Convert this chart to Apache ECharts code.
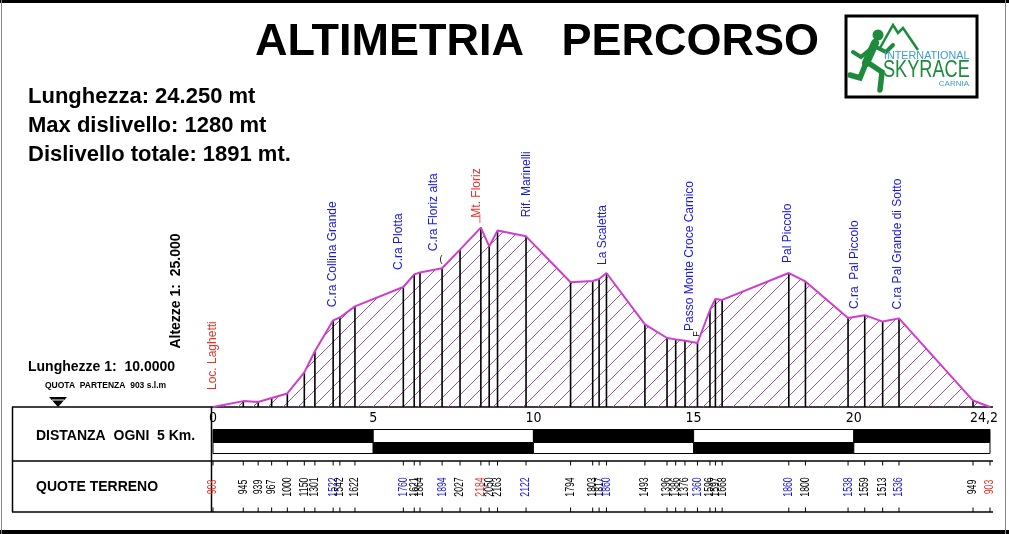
<!DOCTYPE html>
<html><head><meta charset="utf-8">
<script src="https://cdn.jsdelivr.net/npm/echarts@6/dist/echarts.min.js"></script>
<style>html,body{margin:0;padding:0;background:#fff}#c{width:1009px;height:534px}</style>
</head><body><div id="c"></div>
<script>
// ---------------- DATA ----------------
const distancesKm = [0, 0.945, 1.41, 1.83, 2.32, 2.85, 3.18, 3.75, 3.96, 4.43, 5.94, 6.28, 6.46, 7.15, 7.71, 8.36, 8.62, 8.88, 9.77, 11.16, 11.85, 12.05, 12.28, 13.48, 14.17, 14.44, 14.73, 15.12, 15.51, 15.68, 15.89, 17.97, 18.49, 19.82, 20.34, 20.90, 21.41, 23.72, 24.25];
const elevations = [903, 945, 939, 967, 1000, 1150, 1301, 1522, 1542, 1622, 1760, 1850, 1864, 1894, 2027, 2184, 2050, 2163, 2122, 1794, 1803, 1817, 1860, 1493, 1396, 1386, 1376, 1360, 1596, 1675, 1668, 1860, 1800, 1538, 1559, 1513, 1536, 949, 903];
const quoteLabels = ['903','945','939','967','1000','1150','1301','1522','1542','1622','1760','1621','1864','1894','2027','2184','2050','2163','2122','1794','1803','1817','1860','1493','1396','1386','1376','1360','1596','1597','1668','1860','1800','1538','1559','1513','1536','949','903'];
const placeNames = ['Loc. Laghetti','C.ra Collina Grande','C.ra Plotta','C.ra Floriz alta','Mt. Floriz','Rif. Marinelli','La Scaletta','Passo Monte Croce Carnico','Pal Piccolo','C.ra  Pal Piccolo','C.ra Pal Grande di Sotto'];
const placePointIndex = [0, 7, 10, 13, 15, 18, 22, 27, 31, 33, 36];
const distanceSegments = [[0, 5], [5, 10], [10, 15], [15, 20], [20, 24.25]];
const xTickValues = [0, 5, 10, 15, 20, 24.25];
const xTickLabels = ['0', '5', '10', '15', '20', '24,2'];

// ---------------- STYLE / LAYOUT ----------------
const RED = '#e8302a', BLUE = '#1616e0', FONT = 'Liberation Sans, Arial, sans-serif';
const redPlaces = ['Loc. Laghetti', 'Mt. Floriz'];
const nameGap = [17, 13, 17, 17, 10, 19, 8, 12, 10, 9, 9];
const nameDx = [0, 0, -5, -8, -4, 1, -4, -8, -1, 7, -1];
const nameMarks = ['', '', '', '(', '|', '', '', 'F', '', '', ''];
const BASE = 903;

function placeColor(j) { return redPlaces.indexOf(placeNames[j]) >= 0 ? RED : BLUE; }
function quoteColor(i) {
  if (i === 0 || i === distancesKm.length - 1) return RED;
  const j = placePointIndex.indexOf(i);
  return j >= 0 ? placeColor(j) : '#000';
}

// hatch pattern
const pat = document.createElement('canvas');
pat.width = 15; pat.height = 15;
const pc = pat.getContext('2d');
pc.strokeStyle = '#9a55a0'; pc.lineWidth = 1;
pc.beginPath();
pc.moveTo(0, 15); pc.lineTo(15, 0);
pc.moveTo(-2, 2); pc.lineTo(2, -2);
pc.moveTo(13, 17); pc.lineTo(17, 13);
pc.stroke();

const chart = echarts.init(document.getElementById('c'), null, { renderer: 'canvas' });

const profile = distancesKm.map((d, i) => [d, elevations[i]]);
const G = '#1e8a3c';

const graphics = [
  // frame
  { type: 'rect', shape: { x: 0, y: 0, width: 1009, height: 3 }, style: { fill: '#000' } },
  { type: 'rect', shape: { x: 0, y: 530, width: 1009, height: 4 }, style: { fill: '#000' } },
  { type: 'line', shape: { x1: 1.5, y1: 0, x2: 1.5, y2: 534 }, style: { stroke: '#888', lineWidth: 1 } },
  { type: 'line', shape: { x1: 1005.5, y1: 0, x2: 1005.5, y2: 534 }, style: { stroke: '#888', lineWidth: 1 } },
  // table
  { type: 'line', shape: { x1: 12, y1: 407, x2: 993, y2: 407 }, style: { stroke: '#000', lineWidth: 1.5 } },
  { type: 'line', shape: { x1: 12, y1: 461, x2: 993, y2: 461 }, style: { stroke: '#000', lineWidth: 1.5 } },
  { type: 'line', shape: { x1: 12, y1: 512, x2: 993, y2: 512 }, style: { stroke: '#000', lineWidth: 1.5 } },
  { type: 'line', shape: { x1: 12.5, y1: 407, x2: 12.5, y2: 512 }, style: { stroke: '#000', lineWidth: 1.5 } },
  { type: 'line', shape: { x1: 211.5, y1: 407, x2: 211.5, y2: 512 }, style: { stroke: '#000', lineWidth: 1.5 } },
  { type: 'text', x: 36, y: 436, style: { text: 'DISTANZA  OGNI  5 Km.', font: 'bold 14px ' + FONT, fill: '#000', verticalAlign: 'middle' } },
  { type: 'text', x: 36, y: 487, style: { text: 'QUOTE TERRENO', font: 'bold 14px ' + FONT, fill: '#000', verticalAlign: 'middle' } },
  // title and info
  { type: 'text', x: 537, y: 43, style: { text: 'ALTIMETRIA   PERCORSO', font: 'bold 45px ' + FONT, fill: '#000', align: 'center', verticalAlign: 'middle' } },
  { type: 'text', x: 28, y: 97, style: { text: 'Lunghezza: 24.250 mt', font: 'bold 22px ' + FONT, fill: '#000', verticalAlign: 'middle' } },
  { type: 'text', x: 28, y: 126, style: { text: 'Max dislivello: 1280 mt', font: 'bold 22px ' + FONT, fill: '#000', verticalAlign: 'middle' } },
  { type: 'text', x: 28, y: 155, style: { text: 'Dislivello totale: 1891 mt.', font: 'bold 22px ' + FONT, fill: '#000', verticalAlign: 'middle' } },
  { type: 'text', x: 176, y: 291, rotation: Math.PI / 2, style: { text: 'Altezze 1:  25.000', font: 'bold 14px ' + FONT, fill: '#000', align: 'center', verticalAlign: 'middle' } },
  { type: 'text', x: 28, y: 367, style: { text: 'Lunghezze 1:  10.0000', font: 'bold 14px ' + FONT, fill: '#000', verticalAlign: 'middle' } },
  { type: 'text', x: 45, y: 386, style: { text: 'QUOTA  PARTENZA  903 s.l.m', font: 'bold 8.5px ' + FONT, fill: '#000', verticalAlign: 'middle' } },
  { type: 'polygon', shape: { points: [[49, 397], [67, 397], [58, 407]] }, style: { fill: '#000' } },
  { type: 'line', shape: { x1: 52, y1: 400, x2: 64, y2: 400 }, style: { stroke: '#fff', lineWidth: 1 } },
  // logo
  { type: 'rect', shape: { x: 846, y: 16, width: 131, height: 81 }, style: { fill: '#fff', stroke: '#000', lineWidth: 3 } },
  { type: 'polyline', shape: { points: [[880, 48], [893, 25], [898, 33], [903, 28], [918, 50]] }, style: { stroke: G, lineWidth: 2.5, fill: null } },
  { type: 'circle', shape: { cx: 878, cy: 35, r: 5.5 }, style: { fill: G } },
  { type: 'polyline', shape: { points: [[875, 43], [866, 63]] }, style: { stroke: G, lineWidth: 8, lineCap: 'round' } },
  { type: 'polyline', shape: { points: [[874, 46], [886, 52], [893, 45]] }, style: { stroke: G, lineWidth: 4, lineCap: 'round', fill: null } },
  { type: 'polyline', shape: { points: [[873, 47], [861, 57], [853, 52]] }, style: { stroke: G, lineWidth: 4, lineCap: 'round', fill: null } },
  { type: 'polyline', shape: { points: [[867, 62], [882, 72], [880, 90]] }, style: { stroke: G, lineWidth: 5.5, lineCap: 'round', fill: null } },
  { type: 'polyline', shape: { points: [[866, 63], [860, 78], [850, 75]] }, style: { stroke: G, lineWidth: 5.5, lineCap: 'round', fill: null } },
  { type: 'text', x: 884, y: 56, scaleX: 0.98, style: { text: 'INTERNATIONAL', font: '11px ' + FONT, fill: '#3a9fd0', verticalAlign: 'middle' } },
  { type: 'text', x: 883, y: 71, scaleX: 0.79, style: { text: 'SKYRACE', font: '23px ' + FONT, fill: G, verticalAlign: 'middle' } },
  { type: 'text', x: 969, y: 84, style: { text: 'CARNIA', font: '8px ' + FONT, fill: '#3a9fd0', align: 'right', verticalAlign: 'middle' } }
];

const option = {
  animation: false,
  backgroundColor: '#fff',
  grid: { left: 213, right: 19, top: 197, bottom: 127, containLabel: false, outerBoundsMode: 'none' },
  xAxis: {
    type: 'value', min: 0, max: 24.25, interval: 5,
    axisLine: { show: false }, axisTick: { show: false }, splitLine: { show: false },
    axisLabel: {
      showMinLabel: true, showMaxLabel: true, margin: 4, color: '#000', fontSize: 14,
      fontFamily: 'Liberation Sans Narrow, DejaVu Sans Condensed, sans-serif',
      formatter: v => {
        const k = xTickValues.findIndex(t => Math.abs(t - v) < 1e-6);
        if (k < 0) return '';
        return k === xTickValues.length - 1 ? '{r|' + xTickLabels[k] + '}' : xTickLabels[k];
      },
      rich: { r: { padding: [0, 12, 0, 0], fontSize: 14, color: '#000', fontFamily: 'Liberation Sans Narrow, DejaVu Sans Condensed, sans-serif' } }
    }
  },
  yAxis: { type: 'value', min: BASE, max: 2403, show: false, splitLine: { show: false } },
  graphic: graphics,
  series: [
    { // hatched area
      type: 'line', data: profile, symbol: 'none', silent: true, z: 1,
      lineStyle: { width: 0, opacity: 0 },
      areaStyle: { color: { image: pat, repeat: 'repeat' }, opacity: 1, origin: 'start' }
    },
    { // drop lines, table ticks, quote labels
      type: 'custom', coordinateSystem: 'cartesian2d', clip: false, silent: true, z: 2,
      data: distancesKm.map((d, i) => [d, elevations[i], i]),
      encode: { x: 0, y: 1 },
      renderItem: (params, api) => {
        const i = api.value(2);
        const p = api.coord([api.value(0), api.value(1)]);
        const b = api.coord([api.value(0), BASE]);
        return { type: 'group', children: [
          { type: 'line', shape: { x1: p[0], y1: p[1], x2: p[0], y2: b[1] }, style: { stroke: '#000', lineWidth: 1.6 } },
          { type: 'line', shape: { x1: p[0], y1: 461, x2: p[0], y2: 465.5 }, style: { stroke: '#000', lineWidth: 1 } },
          { type: 'line', shape: { x1: p[0], y1: 507.5, x2: p[0], y2: 512 }, style: { stroke: '#000', lineWidth: 1 } },
          { type: 'text', x: p[0], y: 487, rotation: Math.PI / 2, scaleX: 0.7,
            style: { text: quoteLabels[i], x: 0, y: 0, align: 'center', verticalAlign: 'middle', fill: quoteColor(i), font: '12.5px ' + FONT } }
        ] };
      }
    },
    { // profile line
      type: 'line', data: profile, symbol: 'none', silent: true, z: 3,
      lineStyle: { color: '#d03cd0', width: 2 }
    },
    { // place names
      type: 'custom', coordinateSystem: 'cartesian2d', clip: false, silent: true, z: 4,
      data: placePointIndex.map((idx, j) => [distancesKm[idx], elevations[idx], j]),
      encode: { x: 0, y: 1 },
      renderItem: (params, api) => {
        const j = api.value(2);
        const p = api.coord([api.value(0), api.value(1)]);
        const ax = p[0] + nameDx[j], ay = p[1] - nameGap[j];
        const ch = [{ type: 'text', x: ax, y: ay, rotation: Math.PI / 2,
          style: { text: placeNames[j], x: 0, y: 0, align: 'left', verticalAlign: 'middle', fill: placeColor(j), font: '12px ' + FONT } }];
        if (nameMarks[j]) {
          ch.push({ type: 'text', x: p[0] - 1, y: p[1] - 9, rotation: nameMarks[j] === 'F' ? Math.PI / 2 : 0,
            style: { text: nameMarks[j], x: 0, y: 0, align: 'center', verticalAlign: 'middle', fill: placeColor(j) === RED ? RED : '#000', font: '9px ' + FONT } });
        }
        return { type: 'group', children: ch };
      }
    },
    { // distance bar
      type: 'custom', coordinateSystem: 'cartesian2d', clip: false, silent: true, z: 4,
      data: distanceSegments.map(s => [s[0], s[1], BASE]),
      encode: { x: [0, 1], y: 2 },
      renderItem: (params, api) => {
        const s = api.coord([api.value(0), BASE])[0];
        const e = api.coord([api.value(1), BASE])[0];
        const odd = params.dataIndex % 2 === 1;
        return { type: 'group', children: [
          { type: 'rect', shape: { x: s, y: 429.5, width: e - s, height: 13 }, style: { fill: odd ? '#fff' : '#000', stroke: '#000', lineWidth: 1 } },
          { type: 'rect', shape: { x: s, y: 442.5, width: e - s, height: 11 }, style: { fill: odd ? '#000' : '#fff', stroke: '#000', lineWidth: 1 } }
        ] };
      }
    }
  ]
};
chart.setOption(option);
</script>
</body></html>
